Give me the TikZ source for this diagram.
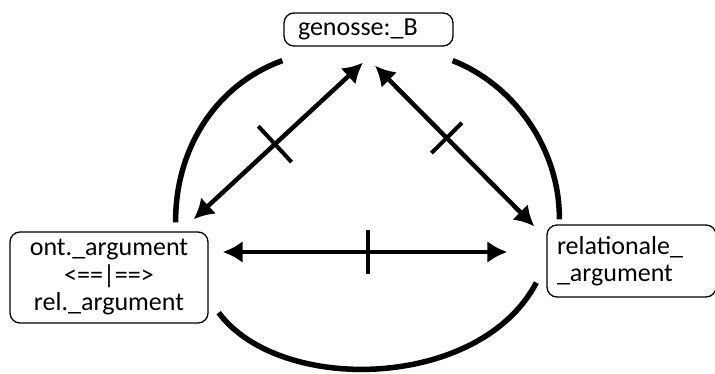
\documentclass[tikz,border=0pt]{standalone}
\usepackage{fontspec}
\setmainfont{Carlito}
\usetikzlibrary{arrows.meta,positioning,calc}

\begin{document}
\begin{tikzpicture}[
  x=1pt, y=-1pt,
  box/.style={draw,rounded corners=10pt,line width=1.3pt,inner sep=0pt,
              font=\fontsize{26}{27.5}\selectfont},
  ar/.style={{Latex[length=20pt,width=22pt]}-{Latex[length=20pt,width=22pt]},
             line width=4.5pt},
  bow/.style={line width=5.5pt},
  tick/.style={sloped,fill,inner sep=0pt,minimum width=4pt,
               minimum height=49pt}
]
\useasboundingbox (0,0) rectangle (715,374);

\node[box,text width=141pt,align=left,inner xsep=14pt,minimum height=33pt] (gen)
  at (368.5,29.5) {genosse:\_B};
\node[box,align=center,minimum width=198pt,minimum height=91pt] (ont)
  at (109,277.5) {ont.\_argument\\<==|==>\\rel.\_argument};
\node[box,text width=149pt,align=left,inner xsep=10pt,minimum height=72pt] (rel)
  at (631.5,261) {relationale\_\\\_argument};

% outer bows
\draw[bow] ($(ont.north east)+(-33,-9)$) .. controls (175,150) and (215,85) ..
  ($(gen.south west)+(-1,14)$);
\draw[bow] ($(gen.south east)+(-1,14)$) .. controls (515,85) and (560,150) ..
  ($(rel.north west)+(13,-5)$);
\draw[bow] ($(ont.south east)+(10,-11)$) .. controls (280,395) and (480,390) ..
  ($(rel.south west)+(-10,-15)$);

% crossed arrows
\draw[ar] ($(ont.north east)+(-15,-12)$) -- node[tick,pos=0.48]{}
  ($(gen.south)+(-5.5,16)$);
\draw[ar] ($(gen.south)+(6.5,19)$) -- node[tick,pos=0.45,minimum height=43pt]{}
  ($(rel.north west)+(-12,2)$);
\draw[ar] ($(ont.east)+(14,-25.5)$) -- node[tick,pos=0.51,minimum height=44pt]{}
  ($(rel.west)+(-39,-9)$);
\end{tikzpicture}
\end{document}
